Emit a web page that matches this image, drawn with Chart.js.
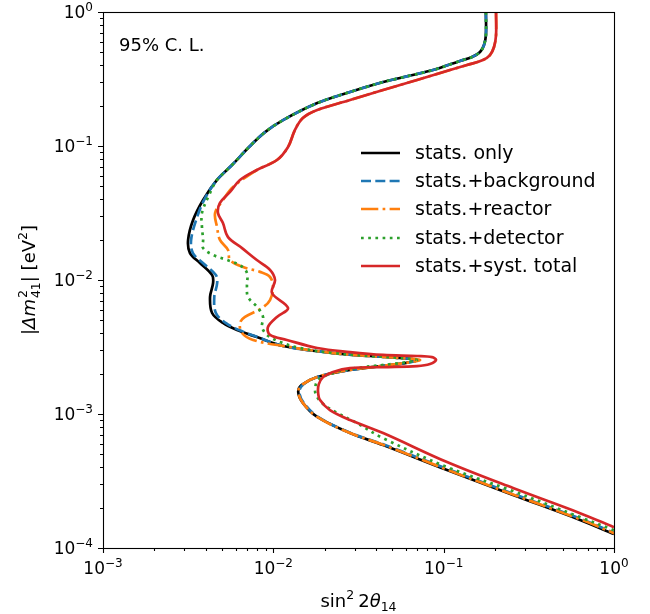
<!DOCTYPE html>
<html>
<head>
<meta charset="utf-8">
<script src="https://cdn.jsdelivr.net/npm/chart.js@4.4.1/dist/chart.umd.min.js"></script>
<style>
  html, body { margin: 0; padding: 0; background: #fff; }
  #wrap { width: 650px; height: 614px; }
</style>
</head>
<body>
<div id="wrap"><canvas id="myChart" width="650" height="614"></canvas></div>
<script>
// exclusion contours, [sin^2 2theta14, |dm^2_41| eV^2]
const statsOnly = [
  [0.177, 1.0], [0.177, 0.674], [0.1725, 0.567], [0.1635, 0.503], [0.1467, 0.461],
  [0.1247, 0.431], [0.0866, 0.369], [0.0554, 0.322], [0.0441, 0.300], [0.0282, 0.253],
  [0.0181, 0.209], [0.0114, 0.156], [0.00894, 0.127], [0.0073, 0.100], [0.00572, 0.0721],
  [0.00467, 0.0558], [0.00387, 0.0395], [0.00338, 0.0280], [0.00316, 0.0199], [0.00324, 0.0159],
  [0.00371, 0.0134], [0.00437, 0.0109], [0.00443, 0.0095], [0.00425, 0.00746], [0.00437, 0.00567],
  [0.00506, 0.00478], [0.00612, 0.00423], [0.0080, 0.00375], [0.0114, 0.00322], [0.0224, 0.00285],
  [0.0369, 0.00271], [0.0554, 0.00262], [0.0698, 0.00253], [0.0593, 0.00240], [0.0282, 0.00213],
  [0.0181, 0.00189], [0.0147, 0.00165], [0.0140, 0.00146], [0.0149, 0.00121], [0.0181, 0.00095],
  [0.0282, 0.000721], [0.0441, 0.000587], [0.1046, 0.000382], [0.2554, 0.000249], [0.632, 0.000162],
  [1.0, 0.000127],
]

const statsBackground = [
  [0.177, 1.0], [0.177, 0.674], [0.1725, 0.567], [0.1635, 0.503], [0.1467, 0.461],
  [0.1247, 0.431], [0.0866, 0.369], [0.0554, 0.322], [0.0441, 0.300], [0.0282, 0.253],
  [0.0181, 0.209], [0.0114, 0.156], [0.00894, 0.127], [0.0073, 0.100], [0.00572, 0.0721],
  [0.00467, 0.0558], [0.00392, 0.0395], [0.00352, 0.0280], [0.00329, 0.0199], [0.00337, 0.0159],
  [0.00386, 0.0134], [0.00460, 0.0109], [0.00468, 0.0095], [0.00450, 0.00746], [0.00460, 0.00567],
  [0.00525, 0.00478], [0.00630, 0.00423], [0.0081, 0.00375], [0.0114, 0.00322], [0.0224, 0.00285],
  [0.0369, 0.00271], [0.0554, 0.00262], [0.0700, 0.00253], [0.0593, 0.00240], [0.0282, 0.00213],
  [0.0182, 0.00189], [0.0149, 0.00165], [0.0142, 0.00146], [0.0151, 0.00121], [0.0183, 0.00095],
  [0.0284, 0.000721], [0.0441, 0.000595], [0.1046, 0.00039], [0.2554, 0.000254], [0.632, 0.000166],
  [1.0, 0.00013],
]

const statsReactor = [
  [0.203, 1.0], [0.203, 0.674], [0.1975, 0.548], [0.187, 0.477], [0.170, 0.438],
  [0.137, 0.402], [0.109, 0.369], [0.0698, 0.311], [0.0441, 0.262], [0.0282, 0.2205],
  [0.0181, 0.1857], [0.0149, 0.162], [0.0134, 0.132], [0.0122, 0.0983], [0.0105, 0.0786],
  [0.0080, 0.0662], [0.0058, 0.0494], [0.00506, 0.0395], [0.00455, 0.0316], [0.00467, 0.0249],
  [0.00486, 0.0199], [0.00542, 0.01675], [0.00557, 0.0141], [0.00664, 0.0125], [0.00835, 0.0115],
  [0.00956, 0.01053], [0.00996, 0.00887], [0.00956, 0.00709], [0.00858, 0.00618], [0.00682, 0.0053],
  [0.00637, 0.00478], [0.00655, 0.00402], [0.0076, 0.00357], [0.0114, 0.00322], [0.0224, 0.00285],
  [0.0369, 0.00271], [0.0554, 0.00262], [0.0726, 0.00253], [0.0593, 0.00240], [0.0282, 0.00213],
  [0.0181, 0.00189], [0.0147, 0.00165], [0.0140, 0.00146], [0.0149, 0.00121], [0.0181, 0.00095],
  [0.0282, 0.000721], [0.0441, 0.000590], [0.1046, 0.000385], [0.2554, 0.000251], [0.632, 0.000164],
  [1.0, 0.000129],
]

const statsDetector = [
  [0.177, 1.0], [0.177, 0.674], [0.1725, 0.567], [0.1635, 0.503], [0.1467, 0.461],
  [0.1247, 0.431], [0.0866, 0.369], [0.0554, 0.322], [0.0441, 0.300], [0.0282, 0.253],
  [0.0181, 0.209], [0.0114, 0.156], [0.00894, 0.127], [0.0073, 0.100], [0.00572, 0.0721],
  [0.00467, 0.0558], [0.00425, 0.0446], [0.00381, 0.0316], [0.00381, 0.0249], [0.00387, 0.0199],
  [0.00387, 0.0173], [0.00443, 0.01537], [0.00535, 0.0141], [0.00637, 0.0129], [0.0070, 0.01128],
  [0.0070, 0.00887], [0.0071, 0.00746], [0.00813, 0.00618], [0.0087, 0.0053], [0.00858, 0.00446],
  [0.00918, 0.00389], [0.01094, 0.00345], [0.0143, 0.00311], [0.0224, 0.00285], [0.0369, 0.00271],
  [0.0554, 0.00262], [0.0698, 0.00253], [0.0554, 0.00240], [0.0282, 0.00217], [0.0215, 0.00199],
  [0.0183, 0.00179], [0.0176, 0.00156], [0.0178, 0.00139], [0.0193, 0.00121], [0.0230, 0.00104],
  [0.0302, 0.00087], [0.0441, 0.00066], [0.1046, 0.000402], [0.2554, 0.000266], [0.632, 0.00017],
  [1.0, 0.000136],
]

const statsSystTotal = [
  [0.203, 1.0], [0.203, 0.674], [0.1975, 0.548], [0.187, 0.477], [0.170, 0.438],
  [0.137, 0.402], [0.109, 0.369], [0.0698, 0.311], [0.0441, 0.262], [0.0282, 0.2205],
  [0.0181, 0.1857], [0.0149, 0.162], [0.0134, 0.132], [0.0122, 0.0983], [0.0105, 0.0786],
  [0.0080, 0.0662], [0.00637, 0.0558], [0.00557, 0.0454], [0.00486, 0.0376], [0.00473, 0.0316],
  [0.00506, 0.0266], [0.00542, 0.0209], [0.00655, 0.0173], [0.0080, 0.0141], [0.00956, 0.0119],
  [0.01023, 0.0100], [0.00982, 0.0080], [0.0122, 0.00618], [0.0105, 0.00530], [0.0093, 0.00446],
  [0.00956, 0.00389], [0.0120, 0.00357], [0.0181, 0.00311], [0.0282, 0.00290], [0.0441, 0.00276],
  [0.0698, 0.00271], [0.0854, 0.00266], [0.0902, 0.00253], [0.0831, 0.00236], [0.0698, 0.00228],
  [0.0441, 0.00224], [0.0282, 0.00220], [0.0224, 0.00206], [0.0196, 0.00189], [0.0185, 0.00167],
  [0.0183, 0.00146], [0.0188, 0.00127], [0.0215, 0.00107], [0.0282, 0.000902], [0.0441, 0.000721],
  [0.1046, 0.000438], [0.2554, 0.000280], [0.632, 0.000182], [1.0, 0.000143],
]

const seriesLabels = ['stats. only', 'stats.+background', 'stats.+reactor', 'stats.+detector', 'stats.+syst. total']
const seriesColors = ['#000000', '#1f77b4', '#ff7f0e', '#2ca02c', '#d62728']
const seriesDashes = [[], [10, 4.3], [17.3, 4.3, 2.7, 4.3], [2.7, 4.5], []]
const seriesData = [statsOnly, statsBackground, statsReactor, statsDetector, statsSystTotal]

const xDecades = [-3, -2, -1, 0]
const yDecades = [-4, -3, -2, -1, 0]

const LW = 2.7
const FONT = '"DejaVu Sans", sans-serif'

// runs: { t, s (font px), it (italic), dy (baseline shift), sub (text under a superscript) }
const runFont = (r) => `${r.it ? 'italic ' : ''}${r.s}px ${FONT}`

const drawRuns = (ctx, runs, x, y, align) => {
  const widths = runs.map((r) => {
    ctx.font = runFont(r)
    let w = ctx.measureText(r.t).width
    if (r.sub) w = Math.max(w, ctx.measureText(r.sub).width)
    return w + (r.gap || 0)
  })
  const total = widths.reduce((a, b) => a + b, 0)
  let cx = x
  if (align === 'center') cx = x - total / 2
  if (align === 'right') cx = x - total
  runs.forEach((r, i) => {
    ctx.font = runFont(r)
    ctx.fillText(r.t, cx, y + (r.dy || 0))
    if (r.sub) ctx.fillText(r.sub, cx, y + r.subDy)
    cx += widths[i]
  })
}

const powLabel = (k) => [
  { t: '10', s: 17 },
  { t: k < 0 ? `\u2212${-k}` : `${k}`, s: 12, dy: -7.5 },
]

const axesDecor = {
  id: 'axesDecor',
  afterDraw(chart) {
    const { ctx, chartArea: area, scales: { x, y } } = chart
    ctx.save()
    ctx.fillStyle = '#000'
    ctx.strokeStyle = '#000'

    // ticks, major at decades and minor in between
    ctx.lineWidth = 1.1
    ctx.beginPath()
    xDecades.forEach((k) => {
      for (let m = 1; m <= 9; m += 1) {
        const v = m * 10 ** k
        if (v > 1.0000001) break
        const px = Math.round(x.getPixelForValue(v)) + 0.5
        const len = m === 1 ? 5 : 3
        ctx.moveTo(px, area.bottom)
        ctx.lineTo(px, area.bottom + len)
      }
    })
    yDecades.forEach((k) => {
      for (let m = 1; m <= 9; m += 1) {
        const v = m * 10 ** k
        if (v > 1.0000001) break
        const py = Math.round(y.getPixelForValue(v)) + 0.5
        const len = m === 1 ? 5 : 3
        ctx.moveTo(area.left, py)
        ctx.lineTo(area.left - len, py)
      }
    })
    ctx.stroke()

    ctx.strokeRect(Math.round(area.left) + 0.5, Math.round(area.top) + 0.5,
      Math.round(area.right - area.left), Math.round(area.bottom - area.top))

    // tick labels
    ctx.textBaseline = 'alphabetic'
    xDecades.forEach((k) => {
      drawRuns(ctx, powLabel(k), x.getPixelForValue(10 ** k), area.bottom + 26, 'center')
    })
    yDecades.forEach((k) => {
      drawRuns(ctx, powLabel(k), area.left - 10, y.getPixelForValue(10 ** k) + 6, 'right')
    })

    // axis titles
    drawRuns(ctx, [
      { t: 'sin', s: 18 },
      { t: '2', s: 12.5, dy: -8, gap: 4 },
      { t: '2', s: 18 },
      { t: '\u03b8', s: 18, it: true },
      { t: '14', s: 12.5, dy: 4 },
    ], (area.left + area.right) / 2, 607, 'center')

    ctx.save()
    ctx.translate(35, (area.top + area.bottom) / 2)
    ctx.rotate(-Math.PI / 2)
    drawRuns(ctx, [
      { t: '|', s: 18 },
      { t: '\u0394m', s: 18, it: true, gap: 1 },
      { t: '2', s: 12.5, dy: -8, sub: '41', subDy: 5 },
      { t: '|', s: 18 },
      { t: ' [eV', s: 18 },
      { t: '2', s: 12.5, dy: -8 },
      { t: ']', s: 18 },
    ], 0, 0, 'center')
    ctx.restore()

    ctx.font = `18px ${FONT}`
    ctx.textAlign = 'left'
    ctx.fillText('95% C. L.', 119, 51)

    // legend, no frame
    const rows = [153, 181, 209, 238, 266]
    seriesLabels.forEach((label, i) => {
      ctx.save()
      ctx.strokeStyle = seriesColors[i]
      ctx.lineWidth = LW
      ctx.lineCap = 'butt'
      ctx.setLineDash(seriesDashes[i])
      ctx.beginPath()
      ctx.moveTo(361, rows[i])
      ctx.lineTo(400, rows[i])
      ctx.stroke()
      ctx.restore()
      ctx.font = `19px ${FONT}`
      ctx.textBaseline = 'middle'
      ctx.fillText(label, 415, rows[i] + 1)
      ctx.textBaseline = 'alphabetic'
    })
    ctx.restore()
  },
}

const ctx = document.getElementById('myChart').getContext('2d')
const myChart = new Chart(ctx, {
  type: 'scatter',
  data: {
    datasets: seriesData.map((pts, i) => ({
      label: seriesLabels[i],
      data: pts.map(([x, y]) => ({ x, y })),
      order: seriesData.length - i,
      showLine: true,
      borderColor: seriesColors[i],
      backgroundColor: seriesColors[i],
      borderWidth: LW,
      borderDash: seriesDashes[i],
      borderCapStyle: 'butt',
      borderJoinStyle: 'round',
      pointRadius: 0,
      tension: 0.35,
    })),
  },
  options: {
    responsive: false,
    animation: false,
    layout: {
      padding: { left: 103, right: 36, top: 12, bottom: 66 },
    },
    scales: {
      x: { type: 'logarithmic', min: 1e-3, max: 1, display: false },
      y: { type: 'logarithmic', min: 1e-4, max: 1, display: false },
    },
    plugins: {
      legend: { display: false },
      tooltip: { enabled: false },
    },
  },
  plugins: [axesDecor],
})
</script>
</body>
</html>
